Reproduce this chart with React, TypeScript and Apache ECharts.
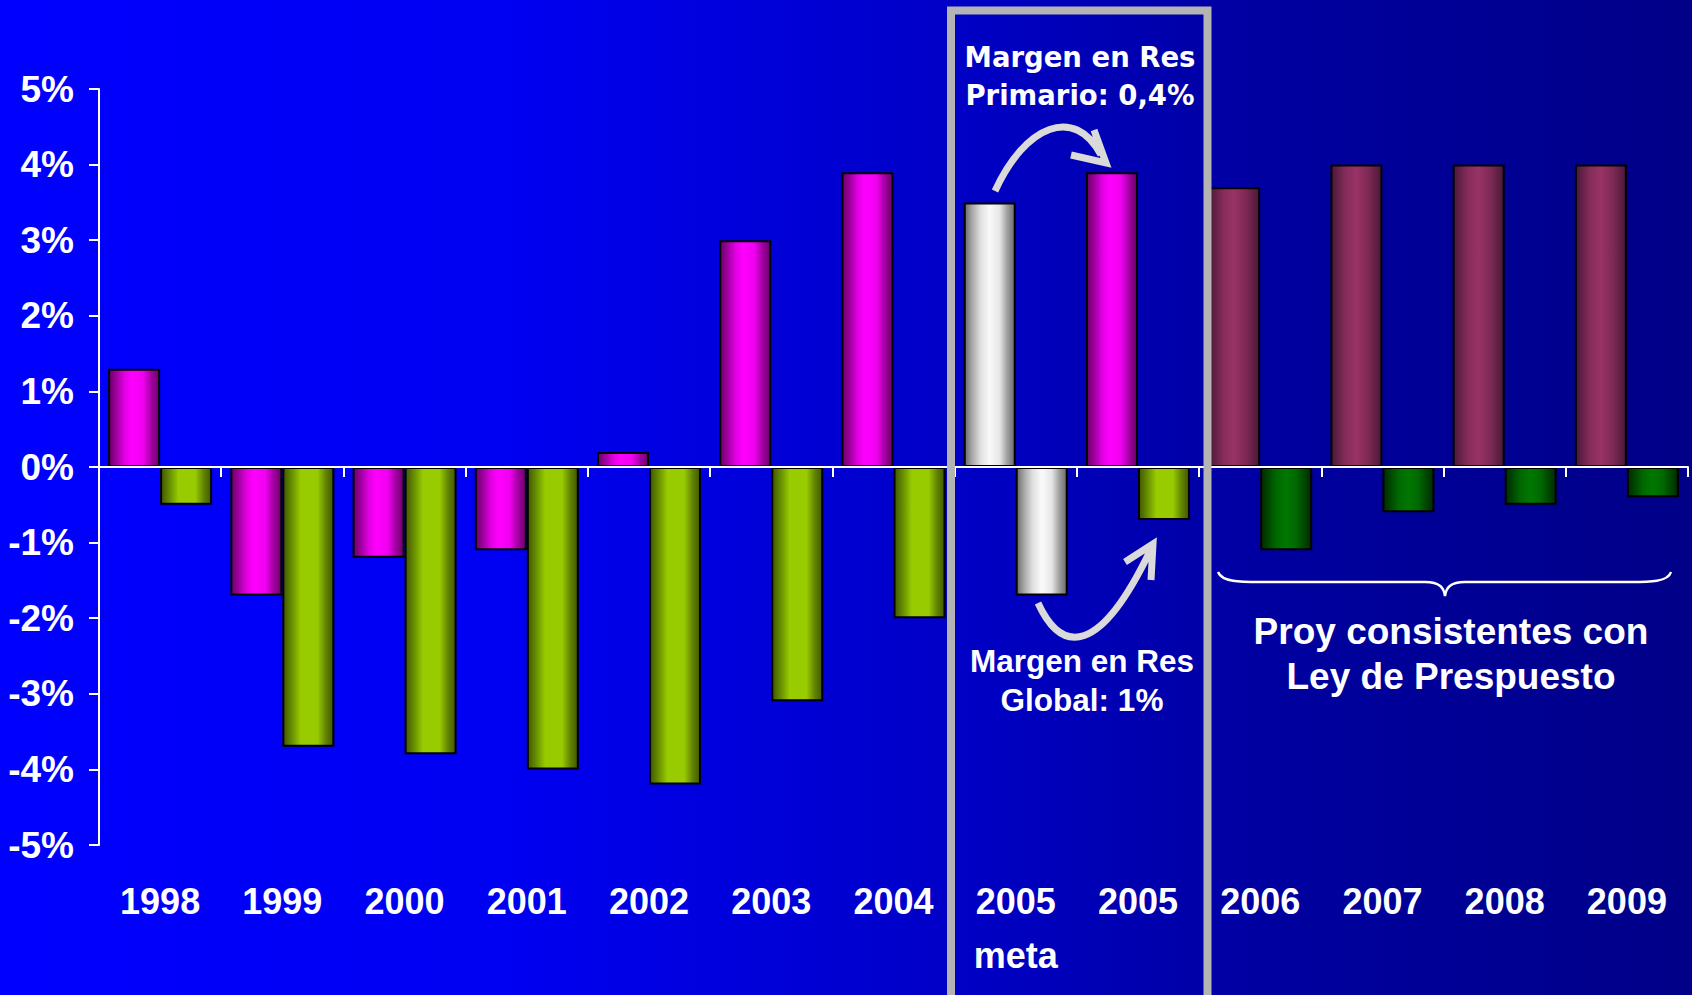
import React, { useEffect, useRef } from "react";
import * as echarts from "echarts";

// ---- data ----
const categories = ["1998", "1999", "2000", "2001", "2002", "2003", "2004", "2005\nmeta", "2005", "2006", "2007", "2008", "2009"];
const resPrimario = [1.3, -1.7, -1.2, -1.1, 0.2, 3.0, 3.9, 3.5, 3.9, 3.7, 4.0, 4.0, 4.0];
const resGlobal = [-0.5, -3.7, -3.8, -4.0, -4.2, -3.1, -2.0, -1.7, -0.7, -1.1, -0.6, -0.5, -0.4];
const yMin = -5;
const yMax = 5;
const yStep = 1;
const noteTop = "Margen en Res\nPrimario: 0,4%";
const noteBottom = "Margen en Res\nGlobal: 1%";
const noteProj = "Proy consistentes con\nLey de Prespuesto";

const grad = (stops: [number, string][]) => ({
  type: "linear",
  x: 0,
  y: 0,
  x2: 1,
  y2: 0,
  colorStops: stops.map(([offset, color]) => ({ offset, color })),
});

const G = {
  magenta: grad([[0, "#6a006a"], [0.15, "#a000a0"], [0.3, "#e000e0"], [0.45, "#ff00ff"], [0.68, "#f000f0"], [0.85, "#a000a0"], [1, "#6a006a"]]),
  lime: grad([[0, "#405800"], [0.18, "#6a9200"], [0.35, "#99cc00"], [0.68, "#99cc00"], [0.85, "#628400"], [1, "#405800"]]),
  white: grad([[0, "#6a6a6a"], [0.15, "#a8a8a8"], [0.32, "#e0e0e0"], [0.5, "#fafafa"], [0.7, "#e6e6e6"], [0.85, "#a0a0a0"], [1, "#6a6a6a"]]),
  maroon: grad([[0, "#4a1838"], [0.28, "#852c5a"], [0.5, "#993366"], [0.75, "#7c2853"], [1, "#4a1838"]]),
  green: grad([[0, "#002a00"], [0.3, "#006800"], [0.5, "#007800"], [0.7, "#006800"], [1, "#002a00"]]),
};

const groupOf = (cat: string) => (cat.includes("meta") ? "meta" : parseInt(cat, 10) > 2005 ? "proj" : "hist");

const colorA = (cat: string) => ({ meta: G.white, proj: G.maroon, hist: G.magenta } as any)[groupOf(cat)];
const colorB = (cat: string) => ({ meta: G.white, proj: G.green, hist: G.lime } as any)[groupOf(cat)];

const AXIS_FONT = "'Liberation Sans Narrow', 'Arial Narrow', 'Liberation Sans', Arial, sans-serif";

echarts.graphic.registerShape(
  "braceShape",
  echarts.graphic.extendPath(
    "M1218,572 C1222,582 1240,582 1260,582 L1425,582 C1440,582 1444,588 1445,596 C1446,588 1450,582 1465,582 L1630,582 C1650,582 1668,582 1671,572",
    {}
  )
);
echarts.graphic.registerShape(
  "arrowTopShape",
  echarts.graphic.extendPath("M995,191 C1025,125 1075,105 1101,155 M1071,155 L1106,163 L1094,130", {})
);
echarts.graphic.registerShape(
  "arrowBotShape",
  echarts.graphic.extendPath("M1038,603 C1062,655 1100,655 1150,551 M1125,562 L1153,544 L1151,580", {})
);

export default function App() {
  const ref = useRef<HTMLDivElement>(null);

  useEffect(() => {
    if (!ref.current) return;
    const chart = echarts.init(ref.current, undefined, { renderer: "svg" });
    const barStyle = { borderColor: "#000", borderWidth: 2 };
    chart.setOption({
      animation: false,
      backgroundColor: "transparent",
      grid: { left: 99, right: 4, top: 89, bottom: 150, containLabel: false },
      xAxis: [
        {
          type: "category",
          data: categories,
          axisLine: { onZero: true, lineStyle: { color: "#fff", width: 2 } },
          axisTick: { show: true, length: 10, inside: false, lineStyle: { color: "#fff", width: 2 } },
          axisLabel: { show: false },
          splitLine: { show: false },
          z: 5,
        },
        {
          type: "category",
          data: categories,
          position: "bottom",
          axisLine: { show: false, onZero: false },
          axisTick: { show: false },
          axisLabel: {
            show: true,
            interval: 0,
            color: "#fff",
            fontFamily: AXIS_FONT,
            fontWeight: "bold",
            fontSize: 36,
            lineHeight: 54,
            margin: 29,
          },
        },
      ],
      yAxis: {
        type: "value",
        min: yMin,
        max: yMax,
        interval: yStep,
        axisLine: { show: true, lineStyle: { color: "#fff", width: 2 } },
        axisTick: { show: true, length: 10, lineStyle: { color: "#fff", width: 2 } },
        splitLine: { show: false },
        axisLabel: {
          color: "#fff",
          fontFamily: AXIS_FONT,
          fontWeight: "bold",
          fontSize: 37,
          margin: 25,
          formatter: "{value}%",
        },
      },
      series: [
        {
          name: "Res Primario",
          type: "bar",
          xAxisIndex: 0,
          barWidth: 52,
          barGap: "0%",
          data: resPrimario.map((v, i) => ({ value: v, itemStyle: { ...barStyle, color: colorA(categories[i]) } })),
          z: 3,
        },
        {
          name: "Res Global",
          type: "bar",
          xAxisIndex: 0,
          barWidth: 52,
          barGap: "0%",
          data: resGlobal.map((v, i) => ({ value: v, itemStyle: { ...barStyle, color: colorB(categories[i]) } })),
          z: 3,
        },
      ],
      graphic: [
        {
          type: "rect",
          shape: { x: 951, y: 10.5, width: 256.5, height: 990 },
          style: { fill: "none", stroke: "#b4b4b4", lineWidth: 8 },
          z: 20,
          silent: true,
        },
        {
          type: "arrowTopShape",
          x: 0,
          y: 0,
          style: { fill: "none", stroke: "#dadada", lineWidth: 7, lineJoin: "miter", lineCap: "butt" },
          z: 21,
        },
        {
          type: "arrowBotShape",
          x: 0,
          y: 0,
          style: { fill: "none", stroke: "#dadada", lineWidth: 7, lineJoin: "miter", lineCap: "butt" },
          z: 21,
        },
        {
          type: "braceShape",
          x: 0,
          y: 0,
          style: { fill: "none", stroke: "#fff", lineWidth: 2.5 },
          z: 21,
        },
        {
          type: "text",
          x: 1080,
          y: 76,
          style: {
            text: noteTop,
            fill: "#fff",
            font: "bold 27.5px 'DejaVu Sans', Verdana, sans-serif",
            lineHeight: 38,
            textAlign: "center",
            textVerticalAlign: "middle",
          },
          z: 22,
        },
        {
          type: "text",
          x: 1082,
          y: 680,
          style: {
            text: noteBottom,
            fill: "#fff",
            font: "bold 31.5px 'Liberation Sans', Arial, sans-serif",
            lineHeight: 39,
            textAlign: "center",
            textVerticalAlign: "middle",
          },
          z: 22,
        },
        {
          type: "text",
          x: 1451,
          y: 654,
          style: {
            text: noteProj,
            fill: "#fff",
            font: "bold 37px 'Liberation Sans', Arial, sans-serif",
            lineHeight: 45,
            textAlign: "center",
            textVerticalAlign: "middle",
          },
          z: 22,
        },
      ],
    });
    return () => chart.dispose();
  }, []);

  return (
    <div
      style={{
        position: "fixed",
        left: 0,
        top: 0,
        width: 1692,
        height: 995,
        background: "linear-gradient(90deg, #0000ff 0%, #0000f2 30%, #0000c4 58%, #0000a0 75%, #000088 100%)",
      }}
    >
      <div ref={ref} style={{ width: 1692, height: 995 }} />
    </div>
  );
}
